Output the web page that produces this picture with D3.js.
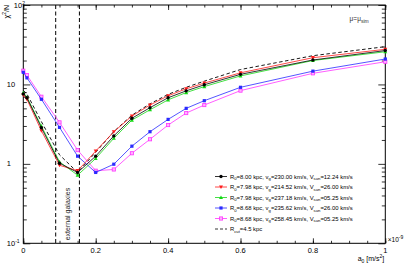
<!DOCTYPE html>
<html>
<head>
<meta charset="utf-8">
<script src="https://cdnjs.cloudflare.com/ajax/libs/d3/7.8.5/d3.min.js"></script>
<style>
  body { margin: 0; background: #fff; }
  svg { font-family: "Liberation Sans", Arial, sans-serif; }
  .domain { display: none; }
</style>
</head>
<body>
<div id="chart"></div>
<script>
// a0 values (units of 1e-9 m/s^2)
var aValues = [0, 0.01, 0.05, 0.1, 0.15, 0.2, 0.25, 0.3, 0.35, 0.4, 0.45, 0.5, 0.6, 0.8, 1.0];

// chi2/N for each parameter set
var chiBlack = [7.6, 6.8, 2.85, 1.02, 0.78, 1.25, 2.25, 3.75, 5.1, 6.8, 8.3, 9.9, 13.4, 20.3, 26.7];
var chiRed   = [7.35, 6.5, 2.61, 0.96, 0.82, 1.45, 2.53, 4.0, 5.5, 7.2, 8.8, 10.4, 14.0, 21.7, 27.7];
var chiGreen = [7.85, 6.9, 2.99, 1.06, 0.72, 1.17, 2.1, 3.56, 4.8, 6.4, 7.9, 9.4, 12.8, 20.0, 25.8];
var chiBlue  = [14.2, 12.1, 6.5, 2.88, 1.25, 0.78, 0.99, 1.67, 2.54, 3.63, 5.0, 6.24, 9.2, 14.7, 20.9];
var chiPink  = [14.9, 13.1, 7.0, 3.33, 1.49, 0.82, 0.85, 1.36, 2.04, 3.08, 4.36, 5.5, 8.36, 13.8, 19.3];
var chiCut   = [8.4, 7.6, 3.4, 1.3, 0.78, 1.4, 2.55, 4.1, 5.7, 7.5, 9.2, 11.0, 15.4, 23.0, 29.9];

// legend parts: R0, vg, Vsun
var legendR0   = ["8.00", "7.98", "7.98", "8.68", "8.68"];
var legendVg   = ["230.00", "214.52", "237.18", "235.62", "258.45"];
var legendVsun = ["12.24", "26.00", "05.25", "26.00", "05.25"];

// vertical lines bounding the "external galaxies" range
var galaxyRange = [0.0895, 0.155];

var xTicks = [0, 0.2, 0.4, 0.6, 0.8, 1];
var yTicks = [0.1, 1, 10, 100];

var W = 407, H = 264;
var margin = {top: 5, right: 21.7, bottom: 20.7, left: 23.3};
var width = W - margin.left - margin.right,
    height = H - margin.top - margin.bottom;

var svg = d3.select("#chart").append("svg").attr("width", W).attr("height", H);
var g = svg.append("g").attr("transform", "translate(" + margin.left + "," + margin.top + ")");

var x = d3.scaleLinear().domain([0, 1]).range([0, width]);
var y = d3.scaleLog().domain([0.1, 100]).range([height, 0]);

// minor ticks
var xMinor = d3.range(0, 1.0001, 0.05).map(function(d) { return +d.toFixed(2); });
var yMinor = [];
[0.1, 1, 10].forEach(function(dec) {
  for (var k = 2; k <= 9; k++) yMinor.push(dec * k);
});

function axisStyle(sel) {
  sel.selectAll("line").attr("stroke", "#000").attr("stroke-width", 0.8);
  sel.selectAll("text").remove();
}

// bottom & top ticks
g.append("g").attr("transform", "translate(0," + height + ")")
  .call(d3.axisBottom(x).tickValues(xMinor).tickSize(-2.5)).call(axisStyle);
g.append("g").attr("transform", "translate(0," + height + ")")
  .call(d3.axisBottom(x).tickValues(xTicks).tickSize(-5)).call(axisStyle);
g.append("g")
  .call(d3.axisTop(x).tickValues(xMinor).tickSize(-2.5)).call(axisStyle);
g.append("g")
  .call(d3.axisTop(x).tickValues(xTicks).tickSize(-5)).call(axisStyle);

// left & right ticks
g.append("g").call(d3.axisLeft(y).tickValues(yMinor).tickSize(-3.5)).call(axisStyle);
g.append("g").call(d3.axisLeft(y).tickValues(yTicks).tickSize(-7)).call(axisStyle);
g.append("g").attr("transform", "translate(" + width + ",0)")
  .call(d3.axisRight(y).tickValues(yMinor).tickSize(-3.5)).call(axisStyle);
g.append("g").attr("transform", "translate(" + width + ",0)")
  .call(d3.axisRight(y).tickValues(yTicks).tickSize(-7)).call(axisStyle);

// frame
g.append("rect").attr("width", width).attr("height", height)
  .attr("fill", "none").attr("stroke", "#000").attr("stroke-width", 1);

// x tick labels
g.selectAll(".xlab").data(xTicks).enter().append("text")
  .attr("x", function(d) { return x(d); })
  .attr("y", height + 10)
  .attr("text-anchor", "middle")
  .attr("font-size", 7.5)
  .text(function(d) { return d; });

var xExp = g.append("text").attr("x", width + 2.5).attr("y", height - 1).attr("font-size", 6.5);
xExp.append("tspan").text("\u00d710");
xExp.append("tspan").attr("dy", -3).attr("font-size", 5).text("-9");

var xTitle = g.append("text").attr("x", width - 1).attr("y", height + 18).attr("text-anchor", "end").attr("font-size", 7);
xTitle.append("tspan").text("a");
xTitle.append("tspan").attr("dy", 1.8).attr("font-size", 5).text("0");
xTitle.append("tspan").attr("dy", -1.8).text(" [m/s");
xTitle.append("tspan").attr("dy", -2.8).attr("font-size", 5).text("2");
xTitle.append("tspan").attr("dy", 2.8).text("]");

// y tick labels
var yLabelX = {0.1: -16.5, 1: -16.5, 10: -16.5, 100: -9.5};
yTicks.forEach(function(d) {
  var t = g.append("text")
    .attr("x", yLabelX[d])
    .attr("y", d === 100 ? y(d) + 3 : y(d) + 2.6)
    .attr("font-size", 7.5);
  if (d === 1) t.text("1");
  else if (d === 10) t.text("10");
  else {
    t.append("tspan").text("10");
    t.append("tspan").attr("dy", -3).attr("font-size", 5).text(d === 100 ? "2" : "-1");
  }
});

var yTitle = svg.append("text")
  .attr("transform", "translate(8.5," + (margin.top) + ") rotate(-90)")
  .attr("text-anchor", "end").attr("font-size", 7);
yTitle.append("tspan").text("\u03c7");
yTitle.append("tspan").attr("dy", -2.8).attr("font-size", 5).text("2");
yTitle.append("tspan").attr("dy", 2.8).text("/N");

// external galaxies
galaxyRange.forEach(function(v) {
  g.append("line")
    .attr("x1", x(v)).attr("x2", x(v)).attr("y1", 0).attr("y2", height)
    .attr("stroke", "#000").attr("stroke-width", 1).attr("stroke-dasharray", "4,2.5");
});
g.append("text")
  .attr("transform", "translate(" + (x((galaxyRange[0] + galaxyRange[1]) / 2) + 2.5) + "," + (height - 3) + ") rotate(-90)")
  .attr("font-size", 7).attr("fill", "#222")
  .text("external galaxies");

// mu label
var muT = g.append("text").attr("x", x(0.9) + 0.5).attr("y", 16).attr("font-size", 6.5).attr("fill", "#333");
muT.append("tspan").text("\u03bc=\u03bc");
muT.append("tspan").attr("dy", 2.2).attr("font-size", 5).text("sim");

// series
var series = [
  {vals: chiBlack, color: "#000000", marker: "circle"},
  {vals: chiRed,   color: "#ff1a1a", marker: "tridown"},
  {vals: chiGreen, color: "#14d814", marker: "triup"},
  {vals: chiBlue,  color: "#2a2aff", marker: "square"},
  {vals: chiPink,  color: "#ff33ff", marker: "opensquare"}
];

var line = d3.line()
  .x(function(d) { return x(d[0]); })
  .y(function(d) { return y(d[1]); });

function drawMarker(sel, type, color, cx, cy) {
  if (type === "circle") {
    sel.append("circle").attr("cx", cx).attr("cy", cy).attr("r", 1.7).attr("fill", color);
  } else if (type === "square") {
    sel.append("rect").attr("x", cx - 1.6).attr("y", cy - 1.6).attr("width", 3.2).attr("height", 3.2).attr("fill", color);
  } else if (type === "opensquare") {
    sel.append("rect").attr("x", cx - 1.6).attr("y", cy - 1.6).attr("width", 3.2).attr("height", 3.2)
      .attr("fill", "#ffb3ff").attr("stroke", color).attr("stroke-width", 0.8);
  } else {
    var s = type === "triup" ? -1 : 1;
    var p = [[cx - 2, cy - s * 1.6], [cx + 2, cy - s * 1.6], [cx, cy + s * 2]];
    sel.append("path").attr("d", "M" + p.join("L") + "Z").attr("fill", color);
  }
}

// dashed R_cut curve
g.append("path")
  .datum(aValues.map(function(a, i) { return [a, chiCut[i]]; }))
  .attr("d", line).attr("fill", "none")
  .attr("stroke", "#000").attr("stroke-width", 0.9).attr("stroke-dasharray", "3.5,2.5");

series.slice().reverse().forEach(function(s) {
  var pts = aValues.map(function(a, i) { return [a, s.vals[i]]; });
  g.append("path").datum(pts).attr("d", line)
    .attr("fill", "none").attr("stroke", s.color).attr("stroke-width", 0.8);
  var mg = g.append("g");
  pts.forEach(function(p) { drawMarker(mg, s.marker, s.color, x(p[0]), y(p[1])); });
});

// legend
var lx = 215 - margin.left, ly0 = 176.5 - margin.top, ldy = 10.5;
var leg = g.append("g").attr("font-size", 5.9);
series.forEach(function(s, i) {
  var yy = ly0 + i * ldy;
  leg.append("line").attr("x1", lx).attr("x2", lx + 12).attr("y1", yy).attr("y2", yy)
    .attr("stroke", s.color).attr("stroke-width", 0.8);
  drawMarker(leg, s.marker, s.color, lx + 6, yy);
  var t = leg.append("text").attr("x", lx + 15).attr("y", yy + 2);
  t.append("tspan").text("R");
  t.append("tspan").attr("dy", 1.5).attr("font-size", 4.2).text("0");
  t.append("tspan").attr("dy", -1.5).text("=" + legendR0[i] + " kpc, v");
  t.append("tspan").attr("dy", 1.5).attr("font-size", 4.2).text("g");
  t.append("tspan").attr("dy", -1.5).text("=" + legendVg[i] + " km/s, V");
  t.append("tspan").attr("dy", 1.5).attr("font-size", 4.2).text("sun");
  t.append("tspan").attr("dy", -1.5).text("=" + legendVsun[i] + " km/s");
});
var yCut = ly0 + 5 * ldy;
leg.append("line").attr("x1", lx).attr("x2", lx + 12).attr("y1", yCut).attr("y2", yCut)
  .attr("stroke", "#000").attr("stroke-width", 0.8).attr("stroke-dasharray", "3,2");
var tc = leg.append("text").attr("x", lx + 15).attr("y", yCut + 2);
tc.append("tspan").text("R");
tc.append("tspan").attr("dy", 1.5).attr("font-size", 4.2).text("cut");
tc.append("tspan").attr("dy", -1.5).text("=4.5 kpc");
</script>
</body>
</html>
